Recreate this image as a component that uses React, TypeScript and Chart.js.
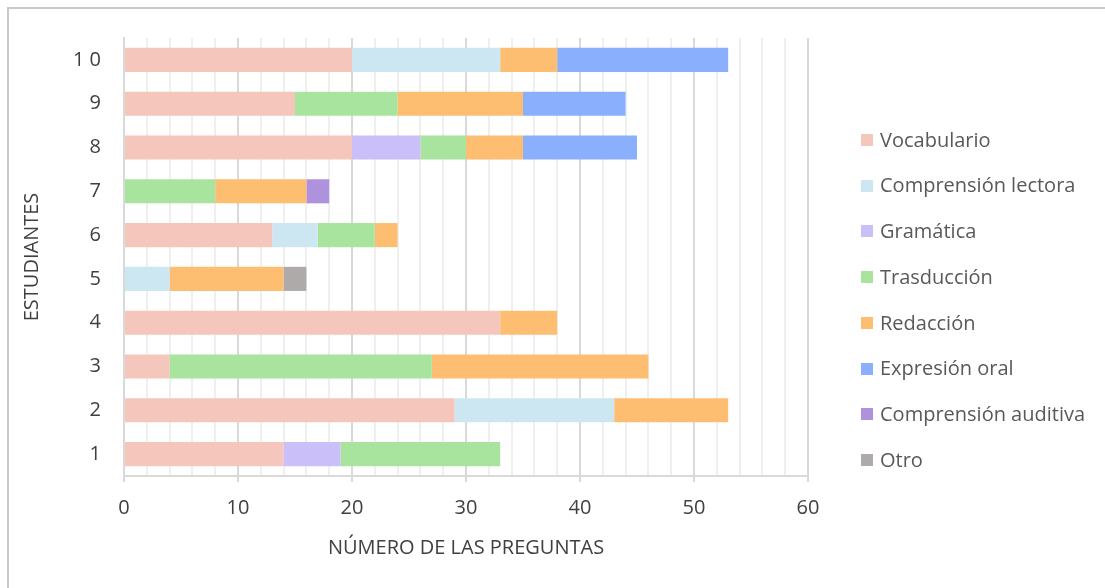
import React, { useEffect, useRef } from "react";
import { Chart, registerables } from "chart.js";

Chart.register(...registerables);

const students = ["1", "2", "3", "4", "5", "6", "7", "8", "9", "1 0"];

const vocabulario = [14, 29, 4, 33, null, 13, null, 20, 15, 20];
const comprensionLectora = [null, 14, null, null, 4, 4, null, null, null, 13];
const gramatica = [5, null, null, null, null, null, null, 6, null, null];
const trasduccion = [14, null, 23, null, null, 5, 8, 4, 9, null];
const redaccion = [null, 10, 19, 5, 10, 2, 8, 5, 11, 5];
const expresionOral = [null, null, null, null, null, null, null, 10, 9, 15];
const comprensionAuditiva = [null, null, null, null, null, null, 2, null, null, null];
const otro = [null, null, null, null, 2, null, null, null, null, null];

const seriesNames = [
  "Vocabulario",
  "Comprensión lectora",
  "Gramática",
  "Trasducción",
  "Redacción",
  "Expresión oral",
  "Comprensión auditiva",
  "Otro",
];
const seriesColors = [
  "#F5C6BC",
  "#CDE7F2",
  "#CBBFFA",
  "#A8E49E",
  "#FDBE72",
  "#8AAFFC",
  "#AE92DE",
  "#AEAAA9",
];
const seriesValues = [
  vocabulario,
  comprensionLectora,
  gramatica,
  trasduccion,
  redaccion,
  expresionOral,
  comprensionAuditiva,
  otro,
];

const xMin = 0;
const xMax = 60;
const xStep = 2;
const xTitle = "NÚMERO DE LAS PREGUNTAS";
const yTitle = "ESTUDIANTES";

const FONT = "'Open Sans', sans-serif";
const FS = 20;
const W = 1105;
const H = 588;
const PLOT_LEFT = 124;
const PLOT_RIGHT = 808;
const PLOT_TOP = 38;
const PLOT_BOTTOM = 476;
const X_AXIS_H = 84;

const LEGEND_BOX_X = 861;
const LEGEND_BOX = 12;
const LEGEND_TEXT_X = 880;
const LEGEND_FIRST_Y = 140;
const LEGEND_STEP = 45.7;

const sideLegend = {
  id: "sideLegend",
  afterDraw(chart: any) {
    const ctx = chart.ctx;
    ctx.save();
    ctx.font = `${FS}px ${FONT}`;
    ctx.textBaseline = "middle";
    ctx.textAlign = "left";
    chart.data.datasets.forEach((ds: any, i: number) => {
      const cy = LEGEND_FIRST_Y + i * LEGEND_STEP;
      ctx.fillStyle = ds.backgroundColor;
      ctx.fillRect(LEGEND_BOX_X, Math.round(cy - LEGEND_BOX / 2), LEGEND_BOX, LEGEND_BOX);
      ctx.fillStyle = "#595959";
      ctx.fillText(ds.label, LEGEND_TEXT_X, cy + 1);
    });
    ctx.restore();
  },
};

export default function App() {
  const ref = useRef<HTMLCanvasElement | null>(null);

  useEffect(() => {
    if (!ref.current) return;
    const chart = new Chart(ref.current, {
      type: "bar",
      data: {
        labels: students,
        datasets: seriesNames.map((name, i) => ({
          label: name,
          data: seriesValues[i],
          backgroundColor: seriesColors[i],
          borderWidth: 0,
          barPercentage: 1,
          categoryPercentage: 0.55,
        })),
      },
      plugins: [sideLegend],
      options: {
        indexAxis: "y",
        animation: false,
        responsive: false,
        layout: {
          padding: {
            left: 0,
            right: W - PLOT_RIGHT,
            top: PLOT_TOP,
            bottom: H - PLOT_BOTTOM - X_AXIS_H,
          },
        },
        plugins: {
          tooltip: { enabled: false },
          legend: { display: false },
        },
        scales: {
          x: {
            type: "linear",
            stacked: true,
            min: xMin,
            max: xMax,
            afterFit: (s: any) => {
              s.height = X_AXIS_H;
            },
            ticks: {
              stepSize: xStep,
              autoSkip: false,
              maxRotation: 0,
              padding: 14,
              color: "#404040",
              font: { family: FONT, size: FS },
              callback: (v: any) => (Number(v) % 10 === 0 ? String(v) : ""),
            },
            grid: {
              color: (ctx: any) =>
                ctx.tick && ctx.tick.value % 10 === 0 ? "#d9d9d9" : "#efefef",
              lineWidth: 2,
              tickColor: (ctx: any) =>
                ctx.tick && ctx.tick.value % 10 === 0 ? "#d9d9d9" : "rgba(0,0,0,0)",
              tickLength: 6,
              drawTicks: true,
            },
            border: { display: true, color: "#d9d9d9", width: 2 },
            title: {
              display: true,
              text: xTitle,
              color: "#404040",
              font: { family: FONT, size: FS },
              padding: { top: 0, bottom: 0 },
            },
          },
          y: {
            type: "category",
            stacked: true,
            reverse: true,
            afterFit: (s: any) => {
              s.width = PLOT_LEFT;
            },
            grid: { display: false, drawTicks: false },
            border: { display: true, color: "#d9d9d9", width: 2 },
            ticks: {
              padding: 23,
              color: "#404040",
              font: { family: FONT, size: FS },
            },
            title: {
              display: true,
              text: yTitle,
              color: "#404040",
              font: { family: FONT, size: FS },
              padding: { top: 20, bottom: 0 },
            },
          },
        },
      },
    });
    return () => chart.destroy();
  }, []);

  return (
    <div style={{ position: "fixed", left: 0, top: 0, width: W, height: H, background: "#fff" }}>
      <canvas ref={ref} width={W} height={H} style={{ position: "absolute", left: 0, top: 0 }} />
      <div
        style={{
          position: "absolute",
          left: 7,
          top: 7,
          right: 0,
          bottom: 0,
          borderTop: "2px solid #c8c8c8",
          borderLeft: "2px solid #c8c8c8",
          pointerEvents: "none",
        }}
      />
    </div>
  );
}
